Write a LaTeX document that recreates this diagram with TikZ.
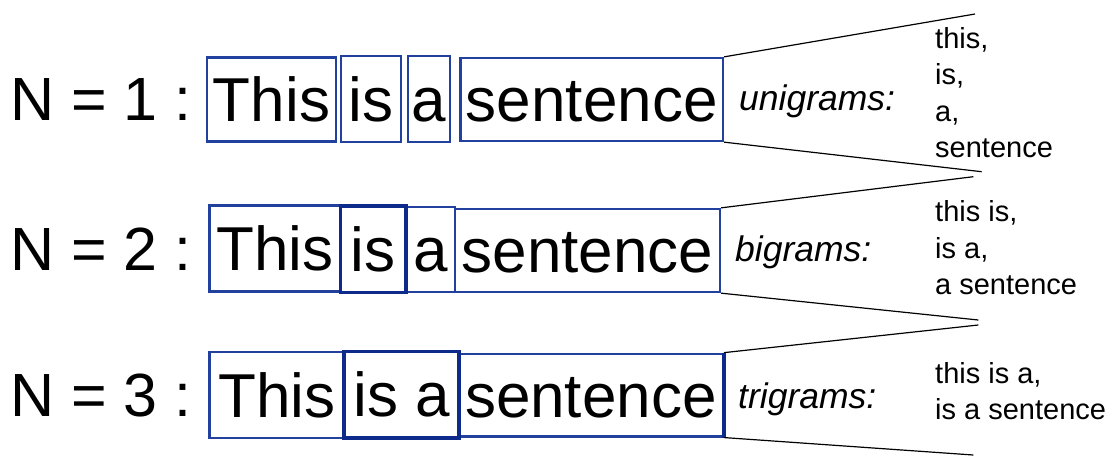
\documentclass[tikz,border=0pt]{standalone}
\usepackage{fontspec}
\setmainfont{Liberation Sans}
\definecolor{boxblue}{RGB}{34,64,158}
\definecolor{darkblue}{RGB}{14,42,138}
\tikzset{
  wordbox/.style={draw=boxblue, line width=2.3pt, inner sep=0pt, text height=44pt, text depth=0pt,
    font=\fontsize{62}{62}\selectfont},
  thickbox/.style={wordbox, draw=darkblue, line width=3.4pt},
  nlabel/.style={anchor=base west, inner sep=0pt, font=\fontsize{61}{61}\selectfont},
  gramlabel/.style={anchor=base west, inner sep=0pt, font=\fontsize{35.5}{35.5}\selectfont\itshape},
  gramlist/.style={anchor=north west, inner sep=0pt, align=left, font=\fontsize{29}{36.4}\selectfont},
  fan/.style={draw=black, line width=1.2pt}
}
\begin{document}
\begin{tikzpicture}[x=1pt,y=-1pt]
\useasboundingbox (0,0) rectangle (1113,456);
% row 1
\node[nlabel] (n1) at (10,120) {N = 1 :};
\node[wordbox, minimum width=129pt, minimum height=84pt] (r1this) at (271.5,99.5) {This};
\node[wordbox, minimum width=60pt, minimum height=86pt] (r1is) at (371,99) {is};
\node[wordbox, minimum width=42pt, minimum height=86pt] (r1a) at (429,99) {a};
\node[wordbox, minimum width=262.5pt, minimum height=83pt] (r1sent) at (591.75,99.5) {sentence};
% row 2
\node[nlabel] (n2) at (10,270) {N = 2 :};
\node[wordbox, minimum width=131pt, minimum height=86pt] (r2this) at (275,248.5) {This};
\node[wordbox, minimum width=48.9pt, minimum height=85pt] (r2a) at (430.35,249.5) {a};
\node[wordbox, minimum width=265pt, minimum height=83pt] (r2sent) at (587.4,250.5) {sentence};
\node[thickbox, minimum width=65.4pt, minimum height=86.6pt] (r2is) at (373.2,249.3) {is};
% row 3
\node[nlabel] (n3) at (10,416) {N = 3 :};
\node[wordbox, minimum width=134.4pt, minimum height=86pt] (r3this) at (276.8,395) {This};
\node[wordbox, minimum width=263.7pt, minimum height=82.6pt] (r3sent) at (590.85,395.1) {sentence};
\node[thickbox, minimum width=115pt, minimum height=86.6pt] (r3isa) at (401.5,394.7) {is a};
\draw[darkblue, line width=3.4pt] (r3sent.north east) -- (r3sent.south east);
% fan lines
\coordinate (c1a) at (975,14);
\coordinate (c1b) at (981.7,171.7);
\coordinate (c2a) at (973.3,176.7);
\coordinate (c2b) at (978.3,320);
\coordinate (c3a) at (978.3,325);
\coordinate (c3b) at (973.3,455);
\draw[fan] (r1sent.north east) -- (c1a);
\draw[fan] (r1sent.south east) -- (c1b);
\draw[fan] (r2sent.north east) -- (c2a);
\draw[fan] (r2sent.south east) -- (c2b);
\draw[fan] (r3sent.north east) -- (c3a);
\draw[fan] (r3sent.south east) -- (c3b);
% labels
\node[gramlabel] (uni) at (739,110) {unigrams:};
\node[gramlabel] (bi) at (735,261.7) {bigrams:};
\node[gramlabel] (tri) at (738,408.3) {trigrams:};
\node[gramlist] (l1) at (935,27.3) {this,\\is,\\a,\\sentence};
\node[gramlist] (l2) at (935,200.6) {this is,\\is a,\\a sentence};
\node[gramlist] (l3) at (935,362.2) {this is a,\\is a sentence};
\end{tikzpicture}
\end{document}
